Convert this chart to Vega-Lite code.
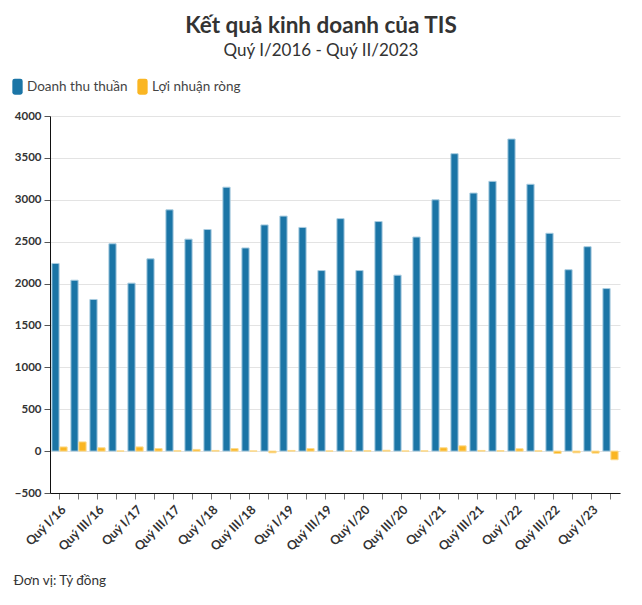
{
  "$schema": "https://vega.github.io/schema/vega-lite/v6.json",
  "width": 570,
  "height": 377,
  "autosize": {"type": "none"},
  "padding": {"left": 50, "top": 116, "right": 22, "bottom": 112},
  "background": "white",
  "config": {
    "font": "Lato",
    "view": {"stroke": null}
  },
  "title": {
    "text": "Kết quả kinh doanh của TIS",
    "subtitle": "Quý I/2016 - Quý II/2023",
    "anchor": "middle",
    "dx": -14,
    "font": "Lato",
    "fontSize": 22.5,
    "fontWeight": "bold",
    "color": "#333333",
    "subtitleFont": "Lato",
    "subtitleFontSize": 17,
    "subtitleColor": "#333333",
    "subtitlePadding": 6,
    "offset": 19
  },
  "data": {
    "values": [
      {"q": "Quý I/16", "s": "Doanh thu thuần", "v": 2240}, {"q": "Quý I/16", "s": "Lợi nhuận ròng", "v": 50},
      {"q": "Quý II/16", "s": "Doanh thu thuần", "v": 2040}, {"q": "Quý II/16", "s": "Lợi nhuận ròng", "v": 110},
      {"q": "Quý III/16", "s": "Doanh thu thuần", "v": 1810}, {"q": "Quý III/16", "s": "Lợi nhuận ròng", "v": 40},
      {"q": "Quý IV/16", "s": "Doanh thu thuần", "v": 2475}, {"q": "Quý IV/16", "s": "Lợi nhuận ròng", "v": 2},
      {"q": "Quý I/17", "s": "Doanh thu thuần", "v": 2005}, {"q": "Quý I/17", "s": "Lợi nhuận ròng", "v": 50},
      {"q": "Quý II/17", "s": "Doanh thu thuần", "v": 2295}, {"q": "Quý II/17", "s": "Lợi nhuận ròng", "v": 30},
      {"q": "Quý III/17", "s": "Doanh thu thuần", "v": 2880}, {"q": "Quý III/17", "s": "Lợi nhuận ròng", "v": 3},
      {"q": "Quý IV/17", "s": "Doanh thu thuần", "v": 2530}, {"q": "Quý IV/17", "s": "Lợi nhuận ròng", "v": 20},
      {"q": "Quý I/18", "s": "Doanh thu thuần", "v": 2645}, {"q": "Quý I/18", "s": "Lợi nhuận ròng", "v": 8},
      {"q": "Quý II/18", "s": "Doanh thu thuần", "v": 3150}, {"q": "Quý II/18", "s": "Lợi nhuận ròng", "v": 30},
      {"q": "Quý III/18", "s": "Doanh thu thuần", "v": 2425}, {"q": "Quý III/18", "s": "Lợi nhuận ròng", "v": 2},
      {"q": "Quý IV/18", "s": "Doanh thu thuần", "v": 2700}, {"q": "Quý IV/18", "s": "Lợi nhuận ròng", "v": -20},
      {"q": "Quý I/19", "s": "Doanh thu thuần", "v": 2805}, {"q": "Quý I/19", "s": "Lợi nhuận ròng", "v": 8},
      {"q": "Quý II/19", "s": "Doanh thu thuần", "v": 2670}, {"q": "Quý II/19", "s": "Lợi nhuận ròng", "v": 30},
      {"q": "Quý III/19", "s": "Doanh thu thuần", "v": 2155}, {"q": "Quý III/19", "s": "Lợi nhuận ròng", "v": 2},
      {"q": "Quý IV/19", "s": "Doanh thu thuần", "v": 2775}, {"q": "Quý IV/19", "s": "Lợi nhuận ròng", "v": 3},
      {"q": "Quý I/20", "s": "Doanh thu thuần", "v": 2155}, {"q": "Quý I/20", "s": "Lợi nhuận ròng", "v": 4},
      {"q": "Quý II/20", "s": "Doanh thu thuần", "v": 2740}, {"q": "Quý II/20", "s": "Lợi nhuận ròng", "v": 10},
      {"q": "Quý III/20", "s": "Doanh thu thuần", "v": 2100}, {"q": "Quý III/20", "s": "Lợi nhuận ròng", "v": 2},
      {"q": "Quý IV/20", "s": "Doanh thu thuần", "v": 2555}, {"q": "Quý IV/20", "s": "Lợi nhuận ròng", "v": 3},
      {"q": "Quý I/21", "s": "Doanh thu thuần", "v": 3000}, {"q": "Quý I/21", "s": "Lợi nhuận ròng", "v": 40},
      {"q": "Quý II/21", "s": "Doanh thu thuần", "v": 3550}, {"q": "Quý II/21", "s": "Lợi nhuận ròng", "v": 63},
      {"q": "Quý III/21", "s": "Doanh thu thuần", "v": 3080}, {"q": "Quý III/21", "s": "Lợi nhuận ròng", "v": 8},
      {"q": "Quý IV/21", "s": "Doanh thu thuần", "v": 3220}, {"q": "Quý IV/21", "s": "Lợi nhuận ròng", "v": 5},
      {"q": "Quý I/22", "s": "Doanh thu thuần", "v": 3725}, {"q": "Quý I/22", "s": "Lợi nhuận ròng", "v": 28},
      {"q": "Quý II/22", "s": "Doanh thu thuần", "v": 3185}, {"q": "Quý II/22", "s": "Lợi nhuận ròng", "v": 3},
      {"q": "Quý III/22", "s": "Doanh thu thuần", "v": 2600}, {"q": "Quý III/22", "s": "Lợi nhuận ròng", "v": -28},
      {"q": "Quý IV/22", "s": "Doanh thu thuần", "v": 2165}, {"q": "Quý IV/22", "s": "Lợi nhuận ròng", "v": -20},
      {"q": "Quý I/23", "s": "Doanh thu thuần", "v": 2440}, {"q": "Quý I/23", "s": "Lợi nhuận ròng", "v": -24},
      {"q": "Quý II/23", "s": "Doanh thu thuần", "v": 1940}, {"q": "Quý II/23", "s": "Lợi nhuận ròng", "v": -103}
    ]
  },
  "mark": {"type": "bar", "strokeWidth": 1},
  "encoding": {
    "x": {
      "field": "q",
      "type": "nominal",
      "sort": null,
      "scale": {"paddingInner": 0.2, "paddingOuter": 0.1},
      "axis": {
        "title": "Đơn vị: Tỷ đồng",
        "titleAnchor": "start",
        "titleAlign": "left",
        "titleX": -37,
        "titleY": 87,
        "titleBaseline": "middle",
        "titleFontSize": 13.5,
        "titleFontWeight": "normal",
        "titleColor": "#333333",
        "labelExpr": "indexof(datum.value, 'Quý I/') === 0 || indexof(datum.value, 'Quý III/') === 0 ? datum.value : ''",
        "labelAngle": -45,
        "labelAlign": "right",
        "labelBaseline": "top",
        "labelFontSize": 12.5,
        "labelFontWeight": "bold",
        "labelColor": "#333333",
        "labelPadding": 4,
        "labelOverlap": false,
        "tickSize": 6,
        "tickColor": "#777777",
        "domainColor": "#111111",
        "grid": false
      }
    },
    "xOffset": {
      "field": "s",
      "type": "nominal",
      "scale": {"paddingInner": 0.1, "paddingOuter": 0}
    },
    "y": {
      "field": "v",
      "type": "quantitative",
      "scale": {"domain": [-500, 4000], "nice": false},
      "axis": {
        "title": null,
        "format": "d",
        "values": [-500, 0, 500, 1000, 1500, 2000, 2500, 3000, 3500, 4000],
        "labelFontSize": 11.5,
        "labelFontWeight": "bold",
        "labelColor": "#333333",
        "labelPadding": 3,
        "tickSize": 6,
        "tickColor": "#555555",
        "domainColor": "#111111",
        "gridColor": "#e3e3e3"
      }
    },
    "color": {
      "field": "s",
      "type": "nominal",
      "scale": {"domain": ["Doanh thu thuần", "Lợi nhuận ròng"], "range": ["#1b75a6", "#fab623"]},
      "legend": {
        "title": null,
        "orient": "none",
        "legendX": -41,
        "legendY": -38,
        "direction": "horizontal",
        "labelFontSize": 13.5,
        "labelColor": "#444444",
        "labelOffset": 1,
        "columnPadding": 6,
        "symbolType": "M-0.34,-1 H0.34 Q0.64,-1 0.64,-0.7 V0.7 Q0.64,1 0.34,1 H-0.34 Q-0.64,1 -0.64,0.7 V-0.7 Q-0.64,-1 -0.34,-1 Z",
        "symbolSize": 260,
        "symbolStrokeWidth": 0,
        "symbolOpacity": 1
      }
    },
    "stroke": {
      "field": "s",
      "type": "nominal",
      "scale": {"domain": ["Doanh thu thuần", "Lợi nhuận ròng"], "range": ["#a8cce0", "#fcd98a"]},
      "legend": null
    }
  }
}
